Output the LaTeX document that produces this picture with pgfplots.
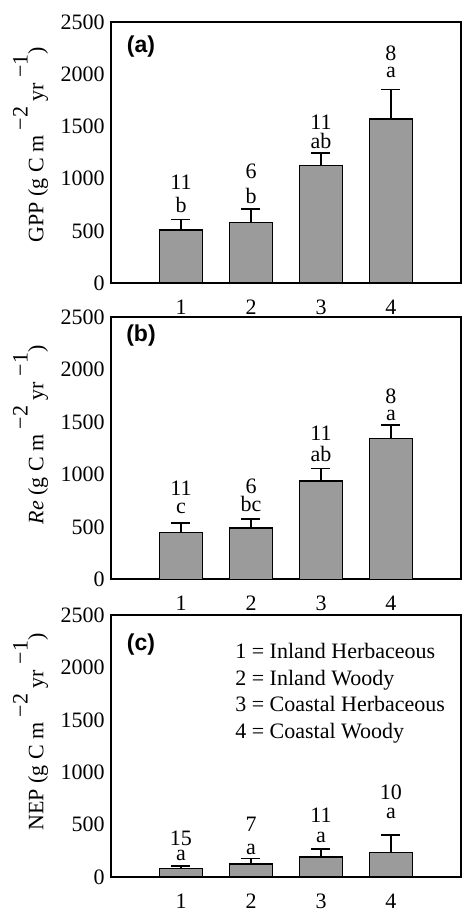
\documentclass[border=0pt]{standalone}
\usepackage{fontspec}
\setmainfont{Liberation Serif}
\newfontfamily\sansb{Liberation Sans}
\usepackage{pgfplots}
\pgfplotsset{compat=1.18}
\definecolor{barg}{RGB}{155,155,155}
\pgfplotsset{
  panel/.style={
    scale only axis, width=175pt, height=131pt,
    anchor=north west,
    xmin=0, xmax=5, ymin=0, ymax=2500,
    xtick={1,2,3,4}, ytick={0,500,1000,1500,2000,2500},
    major tick length=0pt,
    axis line style={line width=0.9pt},
    /pgf/number format/assume math mode=true,
    /pgf/number format/set thousands separator={},
    scaled y ticks=false,
    xticklabel style={yshift=-4.8pt},
    yticklabel style={xshift=0.4pt},
    clip=false,
    ybar, bar width=21.5pt,
  },
  barstyle/.style={
    fill=barg, draw=black, line width=0.8pt,
    error bars/.cd, y dir=plus, y explicit,
    error bar style={line width=0.8pt, black},
    error mark options={rotate=90, mark size=4.75pt, line width=0.8pt, black},
  },
}
\tikzset{ann/.style={anchor=base, inner sep=0pt}}
\newcommand{\rsup}[1]{\raisebox{0.72em}{#1}}
\begin{document}
\begin{tikzpicture}[font=\fontsize{11}{13}\selectfont]
\path[use as bounding box] (0,0) rectangle (231.5pt,-454.5pt);

% ---------- (a) GPP
\begin{axis}[panel, at={(55.5pt,-11pt)}, height=130.5pt,
  ylabel={GPP (g C m \rsup{−2} yr \rsup{−1})},
  ylabel style={at={(axis description cs:-0.193,0.53)}, anchor=base}]
\addplot[barstyle] table[x=x, y=y, y error=e] {
x y e
1 508 102
2 581 125
3 1127 121
4 1571 284
};
\node[ann] at (axis cs:1,891) {11};
\node[ann] at (axis cs:1,680) {b};
\node[ann] at (axis cs:2,1003) {6};
\node[ann] at (axis cs:2,763) {b};
\node[ann] at (axis cs:3,1472) {11};
\node[ann] at (axis cs:3,1290) {ab};
\node[ann] at (axis cs:4,2127) {8};
\node[ann] at (axis cs:4,1971) {a};
\node[font=\sansb\bfseries\fontsize{11.5}{13}\selectfont] at (axis description cs:0.0857,0.905) {(a)};
\end{axis}

% ---------- (b) Re
\begin{axis}[panel, at={(55.5pt,-158.65pt)},
  ylabel={\textit{Re} (g C m \rsup{−2} yr \rsup{−1})},
  ylabel style={at={(axis description cs:-0.193,0.551)}, anchor=base}]
\addplot[barstyle] table[x=x, y=y, y error=e] {
x y e
1 448 92
2 487 91
3 938 121
4 1342 133
};
\node[ann] at (axis cs:1,795) {11};
\node[ann] at (axis cs:1,630) {c};
\node[ann] at (axis cs:2,820) {6};
\node[ann] at (axis cs:2,645) {bc};
\node[ann] at (axis cs:3,1329) {11};
\node[ann] at (axis cs:3,1122) {ab};
\node[ann] at (axis cs:4,1679) {8};
\node[ann] at (axis cs:4,1513) {a};
\node[font=\sansb\bfseries\fontsize{11.5}{13}\selectfont] at (axis description cs:0.0857,0.929) {(b)};
\end{axis}

% ---------- (c) NEP
\begin{axis}[panel, at={(55.5pt,-307.5pt)},
  ylabel={NEP (g C m \rsup{−2} yr \rsup{−1})},
  ylabel style={at={(axis description cs:-0.193,0.553)}, anchor=base}]
\addplot[barstyle] table[x=x, y=y, y error=e] {
x y e
1 83 22
2 122 53
3 191 76
4 232 169
};
\node[ann] at (axis cs:1,305) {15};
\node[ann] at (axis cs:1,162) {a};
\node[ann] at (axis cs:2,432) {7};
\node[ann] at (axis cs:2,219) {a};
\node[ann] at (axis cs:3,522) {11};
\node[ann] at (axis cs:3,331) {a};
\node[ann] at (axis cs:4,741) {10};
\node[ann] at (axis cs:4,555) {a};
\node[font=\sansb\bfseries\fontsize{11.5}{13}\selectfont] at (axis description cs:0.0857,0.889) {(c)};
\node[anchor=base west, inner sep=0pt] at (axis cs:1.77,2086) {1 = Inland Herbaceous};
\node[anchor=base west, inner sep=0pt] at (axis cs:1.77,1832) {2 = Inland Woody};
\node[anchor=base west, inner sep=0pt] at (axis cs:1.77,1584) {3 = Coastal Herbaceous};
\node[anchor=base west, inner sep=0pt] at (axis cs:1.77,1323) {4 = Coastal Woody};
\end{axis}
\end{tikzpicture}
\end{document}
